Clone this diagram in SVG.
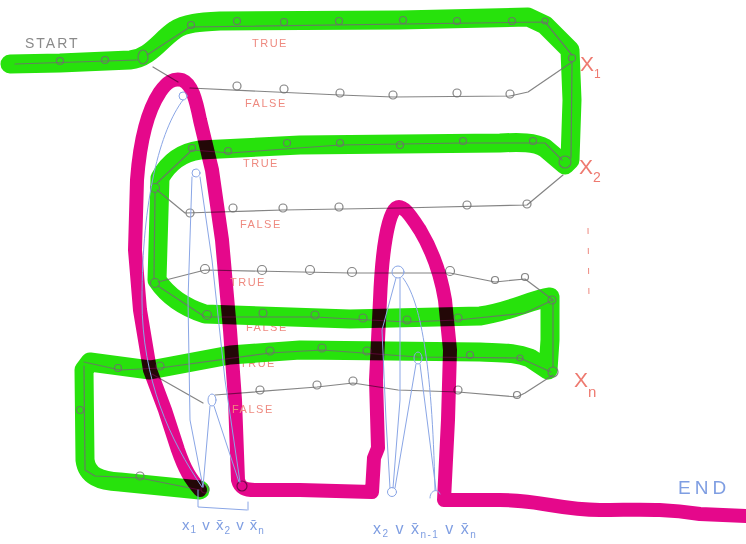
<svg xmlns="http://www.w3.org/2000/svg" width="746" height="544" viewBox="0 0 746 544">
<style>
.grn{fill:none;stroke:#27e20c;stroke-width:19;stroke-linecap:round;stroke-linejoin:round}
.mag{fill:none;stroke:#e5088b;stroke-width:14;stroke-linecap:round;stroke-linejoin:round;mix-blend-mode:multiply}
.ln{fill:none;stroke:#6f6f6f;stroke-width:1.2;stroke-linecap:round;stroke-linejoin:round;opacity:.85}
.lp{fill:none;stroke:#6f6f6f;stroke-width:1.2;opacity:.85}
.bl{fill:none;stroke:#8aa6e6;stroke-width:1;stroke-linecap:round}
.lbl{font-family:"Liberation Sans",Arial,sans-serif;font-size:11px;fill:#ee8a80;letter-spacing:1.5px}
.var{font-family:"Liberation Sans",Arial,sans-serif;fill:#ee7a70}
.blt{font-family:"Liberation Sans",Arial,sans-serif;fill:#7f9ee2}
</style>
<rect width="746" height="544" fill="#ffffff"/>
<g id="hidden-labels">
<text class="lbl" x="246" y="331">FALSE</text>
<text class="lbl" x="240" y="367">TRUE</text>
</g>
<g id="green-path">
<path class="grn" d="M10 64 L60 63 L130 60 C150 58 160 40 175 30 C185 23 200 22 220 21 L400 20 L528 17 L545 25 L570 50 L572 100 L570 160 L565 165 L545 148 C535 142 520 142 500 143 L300 145 L200 150 C185 152 170 160 160 178 L157 280 C165 292 180 306 205 314 L350 319 L480 316 C510 312 530 300 550 297 L550 340 L548 370 L530 358 C515 352 500 353 480 352 L300 350 L230 355 L150 370 L90 362 L84 370 L85 460 C87 476 100 481 120 482 L200 490"/>
</g>
<g id="connectors">
<path class="ln" d="M15 64 L137 60 M147 55 L190 27 L545 22 L572 55"/>
<path class="ln" d="M153 67 L178 82 M190 88 L340 95 L393 97 L510 96 L528 92 L572 62"/>
<path class="ln" d="M572 62 L571 158"/>
<path class="ln" d="M562 160 L545 143 L463 143 L340 145 L230 153 L192 150 L157 183"/>
<path class="ln" d="M157 190 L185 213 L283 210 L400 208 L527 205 L563 175"/>
<path class="ln" d="M155 192 L154 279"/>
<path class="ln" d="M158 282 L205 270 L350 273 L450 273 L495 282 L525 279 L553 300"/>
<path class="ln" d="M158 286 L205 317 L315 317 L407 322 L458 320 L525 313 L553 300"/>
<path class="ln" d="M553 302 L553 367"/>
<path class="ln" d="M551 372 L520 358 L418 357 L322 350 L270 353 L160 368 L120 370 L84 362"/>
<path class="ln" d="M84 366 L85 470 L95 476 L140 478 L200 490"/>
<path class="ln" d="M152 374 L203 403 M215 395 L317 387 L353 383 L398 390 L458 392 L517 397 L525 393 L553 375"/>
<g id="loops">
<circle class="lp" cx="60" cy="61" r="3.5"/><circle class="lp" cx="105" cy="60" r="3.5"/><ellipse class="lp" cx="143" cy="57" rx="5" ry="7"/>
<circle class="lp" cx="191" cy="25" r="3.5"/><circle class="lp" cx="237" cy="21" r="3.5"/><circle class="lp" cx="284" cy="22" r="3.5"/><circle class="lp" cx="339" cy="21" r="3.5"/><circle class="lp" cx="403" cy="20" r="3.5"/><circle class="lp" cx="457" cy="21" r="3.5"/><circle class="lp" cx="512" cy="21" r="3.5"/><circle class="lp" cx="545" cy="21" r="3"/>
<circle class="lp" cx="572" cy="58" r="3.5"/>
<circle class="lp" cx="237" cy="86" r="4"/><circle class="lp" cx="284" cy="89" r="4"/><circle class="lp" cx="340" cy="93" r="4"/><circle class="lp" cx="393" cy="95" r="4"/><circle class="lp" cx="457" cy="93" r="4"/><circle class="lp" cx="510" cy="94" r="4"/>
<circle class="lp" cx="565" cy="162" r="6"/>
<circle class="lp" cx="533" cy="141" r="3.5"/><circle class="lp" cx="463" cy="141" r="3.5"/><circle class="lp" cx="400" cy="145" r="3.5"/><circle class="lp" cx="340" cy="143" r="3.5"/><circle class="lp" cx="287" cy="143" r="3.5"/><circle class="lp" cx="228" cy="151" r="3.5"/><circle class="lp" cx="192" cy="148" r="3.5"/>
<circle class="lp" cx="155" cy="188" r="4.5"/>
<circle class="lp" cx="190" cy="213" r="4"/><circle class="lp" cx="233" cy="208" r="4"/><circle class="lp" cx="283" cy="208" r="4"/><circle class="lp" cx="339" cy="207" r="4"/><circle class="lp" cx="467" cy="205" r="4"/><circle class="lp" cx="527" cy="204" r="4"/>
<circle class="lp" cx="155" cy="283" r="4.5"/>
<circle class="lp" cx="205" cy="269" r="4.5"/><circle class="lp" cx="262" cy="270" r="4.5"/><circle class="lp" cx="310" cy="270" r="4.5"/><circle class="lp" cx="352" cy="272" r="4.5"/><circle class="lp" cx="450" cy="271" r="4.5"/><circle class="lp" cx="495" cy="280" r="3.5"/><circle class="lp" cx="525" cy="277" r="3.5"/>
<circle class="lp" cx="207" cy="315" r="4.5"/><circle class="lp" cx="263" cy="313" r="4"/><circle class="lp" cx="315" cy="315" r="4"/><circle class="lp" cx="363" cy="318" r="4"/><circle class="lp" cx="407" cy="320" r="4"/><circle class="lp" cx="458" cy="318" r="4"/><circle class="lp" cx="552" cy="300" r="4"/>
<circle class="lp" cx="553" cy="372" r="5"/>
<circle class="lp" cx="520" cy="358" r="3"/><circle class="lp" cx="470" cy="355" r="3.5"/><circle class="lp" cx="367" cy="351" r="4"/><circle class="lp" cx="322" cy="348" r="4"/><circle class="lp" cx="270" cy="351" r="4"/><circle class="lp" cx="160" cy="366" r="4"/><circle class="lp" cx="118" cy="368" r="3.5"/>
<circle class="lp" cx="80" cy="410" r="3.5"/><circle class="lp" cx="140" cy="476" r="4"/><circle class="lp" cx="205" cy="489" r="4"/>
<circle class="lp" cx="260" cy="390" r="4"/><circle class="lp" cx="317" cy="385" r="4"/><circle class="lp" cx="353" cy="381" r="4"/><circle class="lp" cx="458" cy="390" r="4"/><circle class="lp" cx="517" cy="395" r="3.5"/>
<circle class="lp" cx="242" cy="486" r="5"/>
</g>
</g>
<g id="magenta-path">
<path class="mag" d="M200 490 C190 478 185 470 178 450 L165 410 L150 370 L140 310 L135 250 L137 180 C140 140 148 110 160 92 C167 82 173 78 182 80 C192 84 196 100 200 120 L212 170 L222 240 L230 330 L235 400 L238 480 C240 488 245 490 255 490 L300 490 L372 492 L374 458 L378 448 L376 380 L380 300 C382 250 388 215 396 208 C403 204 410 215 420 230 C432 250 440 270 445 300 L450 350 L448 420 L444 500 L500 500 C540 500 560 510 600 510 C640 510 660 508 700 514 L746 516"/>
</g>
<g id="literal-links">
<circle class="bl" cx="183" cy="96" r="4"/>
<path class="bl" d="M183 100 C160 130 142 200 142 300 C142 380 170 440 202 487"/>
<circle class="bl" cx="196" cy="173" r="4"/>
<path class="bl" d="M192 177 L188 300 L190 420 L203 487"/>
<path class="bl" d="M200 177 L212 260 L225 380 L240 482"/>
<ellipse class="bl" cx="212" cy="400" rx="4" ry="6"/>
<path class="bl" d="M210 406 L203 487 M214 406 L239 482"/>
<circle class="bl" cx="398" cy="272" r="6"/>
<path class="bl" d="M396 278 L382 330 L386 420 L390 488"/>
<path class="bl" d="M400 278 L400 400 L393 488"/>
<path class="bl" d="M403 278 C420 300 432 360 435 490"/>
<ellipse class="bl" cx="418" cy="358" rx="4" ry="6"/>
<path class="bl" d="M416 364 L395 488 M420 364 L436 490"/>
<circle class="bl" cx="392" cy="492" r="4.5"/>
<path class="bl" d="M430 498 C430 490 438 488 440 494"/>
<path class="bl" d="M198 490 L198 507 L247 510 M248 502 L248 510"/>
</g>
<g id="labels">
<text x="25" y="48" font-family="Liberation Sans, Arial, sans-serif" font-size="14" fill="#8a8a8a" letter-spacing="2">START</text>
<text class="lbl" x="252" y="47">TRUE</text>
<text class="lbl" x="245" y="107">FALSE</text>
<text class="lbl" x="243" y="167">TRUE</text>
<text class="lbl" x="240" y="228">FALSE</text>
<text class="lbl" x="230" y="286">TRUE</text>
<text class="lbl" x="232" y="413">FALSE</text>
<text class="var" x="580" y="71" font-size="21">X<tspan font-size="12" dy="7">1</tspan></text>
<text class="var" x="579" y="174" font-size="21">X<tspan font-size="14" dy="8">2</tspan></text>
<text class="var" x="574" y="387" font-size="21">X<tspan font-size="15" dy="10">n</tspan></text>
<path d="M588 228 L589 300" fill="none" stroke="#ee8a80" stroke-width="1" stroke-dasharray="6 14"/>
<text class="blt" x="678" y="494" font-size="19" letter-spacing="4">END</text>
<text class="blt" x="182" y="530" font-size="15" letter-spacing="1">x<tspan font-size="10" dy="3">1</tspan><tspan dy="-3"> v x̄</tspan><tspan font-size="10" dy="4">2</tspan><tspan dy="-4"> v x̄</tspan><tspan font-size="10" dy="4">n</tspan></text>
<text class="blt" x="373" y="534" font-size="16" letter-spacing="1.5">x<tspan font-size="10" dy="3">2</tspan><tspan dy="-3"> v x̄</tspan><tspan font-size="10" dy="4">n-1</tspan><tspan dy="-4"> v x̄</tspan><tspan font-size="10" dy="4">n</tspan></text>
</g>
</svg>
